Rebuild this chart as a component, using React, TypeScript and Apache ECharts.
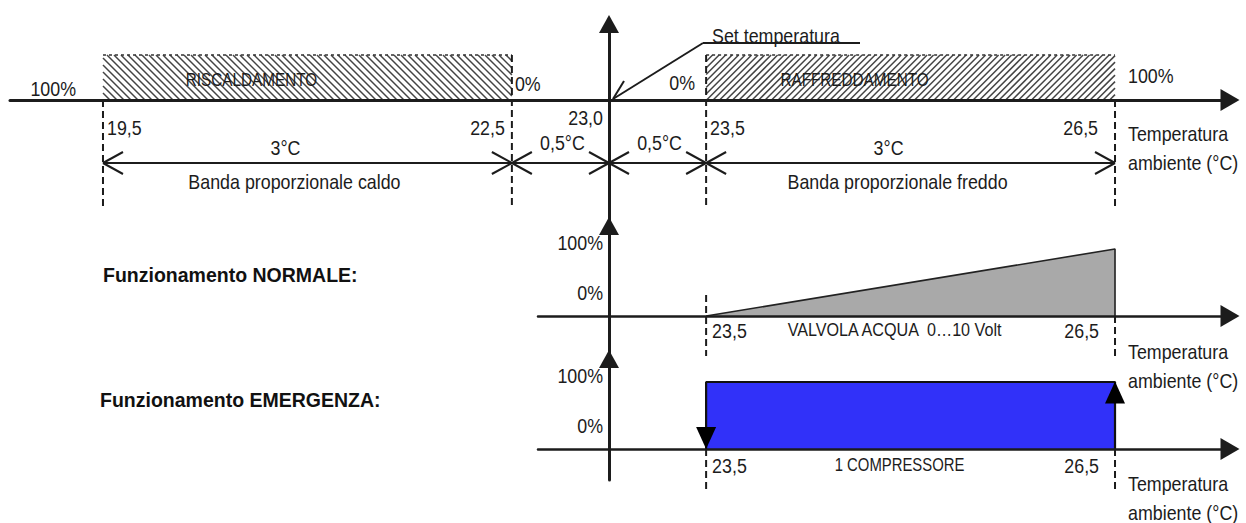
import React, { useEffect, useRef } from 'react';
import * as echarts from 'echarts';

// ---------------- data ----------------
const SETPOINT = 23.0;
const DEADBAND_HALF = 0.5;
const bandNames = ['RISCALDAMENTO', 'RAFFREDDAMENTO'];
const bandStart = [19.5, 23.5];
const bandEnd = [22.5, 26.5];
const bandOutput = [100, 100];
const edgeTemps = [19.5, 22.5, 23.5, 26.5];
const edgeOutputs = ['100%', '0%', '0%', '100%'];
const dimStart = [19.5, 22.5, 23.0, 23.5];
const dimEnd = [22.5, 23.0, 23.5, 26.5];
const dimNames = ['Banda proporzionale caldo', '', '', 'Banda proporzionale freddo'];
const valveTemps = [23.5, 26.5];
const valveOpening = [0, 100];
const valveName = 'VALVOLA ACQUA  0…10 Volt';
const compressorOffAt = 23.5;
const compressorOnAt = 26.5;
const compressorLevels = [0, 100];
const compressorName = '1 COMPRESSORE';
const levelTicks = [0, 100];
const panelTitles = ['Funzionamento NORMALE:', 'Funzionamento EMERGENZA:'];
const axisTitleLines = ['Temperatura', 'ambiente (°C)'];
const setLabel = 'Set temperatura';

// ---------------- layout ----------------
const W = 1246;
const H = 523;
const ORIGIN_X = 609;
const AXIS_END_X = 1230;
const PX_PER_UNIT = 136.3;
const DEAD_STRETCH = 1.425;
const FONT = "'Liberation Sans', Arial, sans-serif";
const NARROW = 0.85;
const INK = '#1c1c1c';

const panels = [
  { left: 10, top: 24, axisY: 100, bottom: 225, pxPerPct: 0.45, nameDy: 33 },
  { left: 538, top: 226, axisY: 316, bottom: 359, pxPerPct: 0.67, nameDy: 35 },
  { left: 538, top: 359, axisY: 449, bottom: 480, pxPerPct: 0.67, nameDy: 34 },
];
const titleY = [275, 400];
const titleX = [103, 100];
const pctGap = [27, 3, 11, 13];
const pctRise = [12, 17, 18, 25];

// schematic x: dead band drawn stretched
function sx(t: number) {
  const d = t - SETPOINT;
  const a = Math.abs(d);
  const u = a <= DEADBAND_HALF ? a * DEAD_STRETCH : DEADBAND_HALF * DEAD_STRETCH + (a - DEADBAND_HALF);
  return Math.sign(d) * u;
}
const fmt = (v: number) => v.toFixed(1).replace('.', ',');
const fmtWidth = (v: number) => String(+v.toFixed(2)).replace('.', ',') + '°C';

const seg = (x1: number, y1: number, x2: number, y2: number, w = 2, dash?: number[], stroke = INK) => {
  const style: any = { stroke, lineWidth: w };
  if (dash) style.lineDash = dash;
  return { type: 'line', shape: { x1, y1, x2, y2 }, style, silent: true };
};
const txt = (text: string, x: number, y: number, align = 'center', size = 21) => ({
  type: 'text',
  x,
  y,
  scaleX: NARROW,
  silent: true,
  style: { text, fill: INK, fontSize: size, fontFamily: FONT, align, verticalAlign: 'middle' },
});

export default function App() {
  const ref = useRef<HTMLDivElement>(null);
  useEffect(() => {
    if (!ref.current) return;
    const chart = echarts.init(ref.current, null, { renderer: 'svg' });
    const coolEnd = bandEnd[bandEnd.length - 1];

    const grid = panels.map((p) => ({
      left: p.left,
      right: W - AXIS_END_X,
      top: p.top,
      height: p.bottom - p.top,
      containLabel: false,
      outerBoundsMode: 'none',
    }));
    const xAxis = panels.map((p, i) => ({
      type: 'value',
      gridIndex: i,
      min: -(ORIGIN_X - p.left) / PX_PER_UNIT,
      max: (AXIS_END_X - ORIGIN_X) / PX_PER_UNIT,
      axisLine: {
        show: true,
        onZero: true,
        symbol: ['none', 'triangle'],
        symbolSize: [22, 19],
        lineStyle: { color: INK, width: i === 0 ? 3 : 2.5 },
      },
      axisTick: { show: false },
      axisLabel: { show: false },
      splitLine: { show: false },
      z: 5,
    }));
    const yAxis = panels.map((p, i) => ({
      type: 'value',
      gridIndex: i,
      min: -(p.bottom - p.axisY) / p.pxPerPct,
      max: (p.axisY - p.top) / p.pxPerPct,
      axisLine: {
        show: true,
        onZero: true,
        symbol: ['none', 'triangle'],
        symbolSize: [20, 18],
        lineStyle: { color: INK, width: 3 },
      },
      axisTick: { show: false },
      axisLabel: { show: false },
      splitLine: { show: false },
      z: 5,
    }));

    const series: any[] = [];

    // hatched bands (heating / cooling)
    series.push({
      type: 'custom',
      xAxisIndex: 0,
      yAxisIndex: 0,
      silent: true,
      z: 3,
      data: bandStart.map((s, i) => [sx(s), sx(bandEnd[i]), bandOutput[i]]),
      renderItem: (params: any, api: any) => {
        const i = params.dataIndex;
        const [x0, y0] = api.coord([api.value(0), api.value(2)]);
        const [x1, y1] = api.coord([api.value(1), 0]);
        const h = y1 - y0;
        const step = i === 0 ? 7 : 6.5;
        const children: any[] = [];
        for (let c = x0 - h; c < x1; c += step) {
          if (i === 0) {
            const ya = Math.max(y0, y0 + (x0 - c));
            const yb = Math.min(y1, y0 + (x1 - c));
            if (yb > ya) children.push(seg(c + ya - y0, ya, c + yb - y0, yb, 1.5, undefined, '#444'));
          } else {
            const ya = Math.max(y0, y1 - (x1 - c));
            const yb = Math.min(y1, y1 - (x0 - c));
            if (yb > ya) children.push(seg(c + (y1 - ya), ya, c + (y1 - yb), yb, 1.5, undefined, '#444'));
          }
        }
        children.push(seg(x0, y0, x1, y0, 1.6, [3, 3], '#333'));
        children.push(txt(bandNames[i], (x0 + x1) / 2 - 56, y0 + h * 0.55, 'center', 18));
        return { type: 'group', children };
      },
    });

    // band edges: dashed markers, temperature values, output percentages
    series.push({
      type: 'custom',
      xAxisIndex: 0,
      yAxisIndex: 0,
      silent: true,
      z: 4,
      data: edgeTemps.map((t) => [sx(t), 0]),
      renderItem: (params: any, api: any) => {
        const i = params.dataIndex;
        const t = edgeTemps[i];
        const [x, y] = api.coord([api.value(0), 0]);
        const isStart = bandStart.includes(t);
        const nearSet = Math.abs(Math.abs(t - SETPOINT) - DEADBAND_HALF) < 1e-9;
        const topY = nearSet ? api.coord([api.value(0), bandOutput[0]])[1] : y;
        const children: any[] = [seg(x, topY, x, y + 108, 2, [7, 4])];
        children.push(
          isStart ? txt(fmt(t), x + 4, y + 27, 'left') : txt(fmt(t), x - (t === coolEnd ? 17 : 7), y + 27, 'right')
        );
        children.push(
          isStart
            ? txt(edgeOutputs[i], x - pctGap[i], y - pctRise[i], 'right')
            : txt(edgeOutputs[i], x + pctGap[i], y - pctRise[i], 'left')
        );
        return { type: 'group', children };
      },
    });

    // dimension line with bands
    series.push({
      type: 'custom',
      xAxisIndex: 0,
      yAxisIndex: 0,
      silent: true,
      z: 4,
      data: dimStart.map((s, i) => [sx(s), sx(dimEnd[i])]),
      renderItem: (params: any, api: any) => {
        const i = params.dataIndex;
        const [xa, ya] = api.coord([api.value(0), 0]);
        const [xb] = api.coord([api.value(1), 0]);
        const y = ya + 63;
        const width = dimEnd[i] - dimStart[i];
        const wide = width > 1;
        const mid = (xa + xb) / 2;
        const children: any[] = [
          seg(xa, y, xb, y, 2),
          seg(xa + 20, y - 11, xa, y, 2),
          seg(xa + 20, y + 11, xa, y, 2),
          seg(xb - 20, y - 11, xb, y, 2),
          seg(xb - 20, y + 11, xb, y, 2),
          txt(fmtWidth(width), mid + (wide ? -22 : 2), y - (wide ? 16 : 21)),
        ];
        if (dimNames[i]) children.push(txt(dimNames[i], mid - 13, y + 18));
        return { type: 'group', children };
      },
    });

    // set point annotation
    series.push({
      type: 'custom',
      xAxisIndex: 0,
      yAxisIndex: 0,
      silent: true,
      z: 6,
      data: [[sx(SETPOINT), 0]],
      renderItem: (params: any, api: any) => {
        const [x, y] = api.coord([api.value(0), 0]);
        return {
          type: 'group',
          children: [
            txt(fmt(SETPOINT), x - 6, y + 17, 'right'),
            seg(x + 4, y - 1, x + 94, y - 57, 2),
            seg(x + 4, y - 1, x + 15, y - 19, 2),
            seg(x + 94, y - 57, x + 251, y - 57, 1.8),
            txt(setLabel, x + 103, y - 65, 'left'),
          ],
        };
      },
    });

    // axis titles (temperature axis) for each panel
    panels.forEach((p, gi) => {
      series.push({
        type: 'custom',
        xAxisIndex: gi,
        yAxisIndex: gi,
        silent: true,
        z: 4,
        data: [[sx(coolEnd), 0]],
        renderItem: (params: any, api: any) => {
          const [x, y] = api.coord([api.value(0), 0]);
          return {
            type: 'group',
            children: axisTitleLines.map((l, k) => txt(l, x + 13, y + p.nameDy + k * 29, 'left')),
          };
        },
      });
    });

    // valve (normal operation)
    series.push({
      type: 'line',
      xAxisIndex: 1,
      yAxisIndex: 1,
      silent: true,
      symbol: 'none',
      showSymbol: false,
      clip: false,
      z: 2,
      lineStyle: { color: '#222', width: 1.6 },
      areaStyle: { color: '#a9a9a9', opacity: 1 },
      data: [
        ...valveTemps.map((t, i) => [sx(t), valveOpening[i]]),
        [sx(valveTemps[valveTemps.length - 1]), 0],
      ],
    });

    // compressor (emergency operation)
    series.push({
      type: 'line',
      xAxisIndex: 2,
      yAxisIndex: 2,
      silent: true,
      symbol: 'none',
      showSymbol: false,
      clip: false,
      z: 2,
      lineStyle: { color: '#111', width: 2.2 },
      areaStyle: { color: '#3131f9', opacity: 1 },
      data: [
        [sx(compressorOffAt), compressorLevels[0]],
        [sx(compressorOffAt), compressorLevels[1]],
        [sx(compressorOnAt), compressorLevels[1]],
        [sx(compressorOnAt), compressorLevels[0]],
      ],
    });
    series.push({
      type: 'scatter',
      xAxisIndex: 2,
      yAxisIndex: 2,
      silent: true,
      symbol: 'triangle',
      symbolSize: [20, 22],
      itemStyle: { color: '#000', opacity: 1 },
      z: 7,
      data: [
        { value: [sx(compressorOffAt), compressorLevels[0]], symbolRotate: 180, symbolOffset: [0, -11] },
        { value: [sx(compressorOnAt), compressorLevels[1]], symbolRotate: 0, symbolOffset: [0, 10.5] },
      ],
    });

    // markers and labels for lower panels
    [1, 2].forEach((gi) => {
      const name = gi === 1 ? valveName : compressorName;
      series.push({
        type: 'custom',
        xAxisIndex: gi,
        yAxisIndex: gi,
        silent: true,
        z: 4,
        data: valveTemps.map((t) => [sx(t), 0]),
        renderItem: (params: any, api: any) => {
          const i = params.dataIndex;
          const t = valveTemps[i];
          const [x, y] = api.coord([api.value(0), 0]);
          const up = gi === 1 && i === 0 ? 21 : 0;
          const down = gi === 1 ? 40 : 43;
          const ly = y + (gi === 1 ? 14 : 16);
          const children: any[] = [seg(x, y - up, x, y + down, 2, [7, 4])];
          children.push(i === 0 ? txt(fmt(t), x + 6, ly, 'left') : txt(fmt(t), x - 16, ly, 'right'));
          if (i === 0) {
            const [x2] = api.coord([sx(valveTemps[1]), 0]);
            children.push(txt(name, (x + x2) / 2 - (gi === 1 ? 16 : 11), ly, 'center', gi === 1 ? 19 : 17.5));
          }
          return { type: 'group', children };
        },
      });
      series.push({
        type: 'custom',
        xAxisIndex: gi,
        yAxisIndex: gi,
        silent: true,
        z: 4,
        data: levelTicks.map((v) => [0, v]),
        renderItem: (params: any, api: any) => {
          const v = levelTicks[params.dataIndex];
          const [x, y] = api.coord([0, api.value(1)]);
          return txt(v + '%', x - 6, y - (v === 0 ? 24 : 7), 'right');
        },
      });
    });

    const graphic = panelTitles.map((t, i) => ({
      type: 'text',
      x: titleX[i],
      y: titleY[i],
      silent: true,
      style: {
        text: t,
        fill: '#111',
        fontSize: 19.5,
        fontWeight: 'bold',
        fontFamily: FONT,
        align: 'left',
        verticalAlign: 'middle',
      },
    }));

    chart.setOption({
      animation: false,
      backgroundColor: '#ffffff',
      grid,
      xAxis,
      yAxis,
      series,
      graphic,
    });
    return () => chart.dispose();
  }, []);

  return <div ref={ref} style={{ position: 'absolute', left: 0, top: 0, width: W, height: H }} />;
}
